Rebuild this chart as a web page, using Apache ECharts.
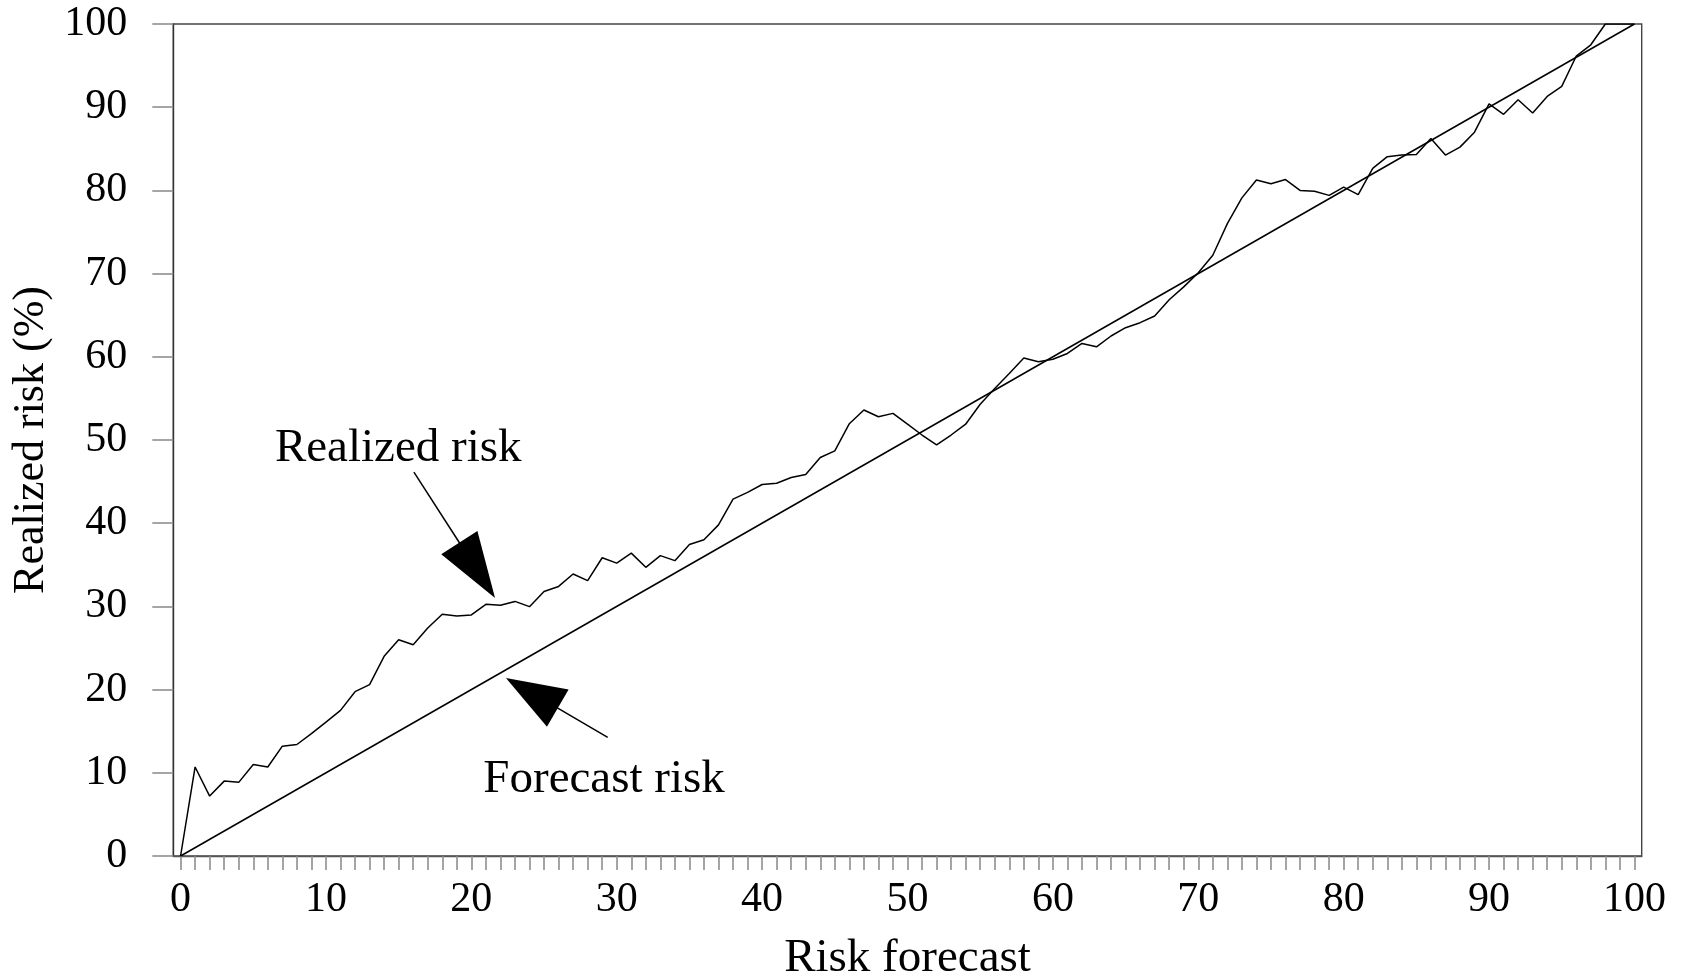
<!DOCTYPE html>
<html>
<head>
<meta charset="utf-8">
<script src="https://cdn.jsdelivr.net/npm/echarts@6/dist/echarts.min.js"></script>
<style>
html,body{margin:0;padding:0;background:#fff;}
#c{width:1684px;height:974px;}
</style>
</head>
<body>
<div id="c"></div>
<script>
// ---- data ----
const riskForecast = [0,1,2,3,4,5,6,7,8,9,10,11,12,13,14,15,16,17,18,19,20,21,22,23,24,25,26,27,28,29,30,31,32,33,34,35,36,37,38,39,40,41,42,43,44,45,46,47,48,49,50,51,52,53,54,55,56,57,58,59,60,61,62,63,64,65,66,67,68,69,70,71,72,73,74,75,76,77,78,79,80,81,82,83,84,85,86,87,88,89,90,91,92,93,94,95,96,97,98,99,100];
const realizedRisk = [0,10.7,7.2,9.0,8.85,11.0,10.7,13.2,13.4,14.7,16.1,17.5,19.75,20.6,24.0,26.0,25.4,27.4,29.05,28.85,28.97,30.25,30.15,30.6,29.97,31.8,32.4,33.9,33.1,35.85,35.2,36.4,34.7,36.1,35.5,37.45,38.0,39.8,42.9,43.7,44.65,44.8,45.5,45.85,47.9,48.7,51.96,53.6,52.8,53.2,51.9,50.6,49.4,50.6,51.9,54.3,56.2,58.0,59.85,59.4,59.7,60.4,61.6,61.2,62.5,63.5,64.1,64.9,66.85,68.4,70.1,72.2,76.0,79.1,81.25,80.8,81.3,80.0,79.9,79.4,80.4,79.5,82.65,84.05,84.25,84.3,86.25,84.25,85.2,87.0,90.4,89.15,90.9,89.3,91.3,92.5,96.15,97.5,100,100,100];
const forecastX = [0, 100];
const forecastY = [0, 100];
const xMajorTicks = [0,10,20,30,40,50,60,70,80,90,100];
const yTicks = [0,10,20,30,40,50,60,70,80,90,100];
const annotationLabels = ['Realized risk', 'Forecast risk'];
const annotationTextAt = [[14.97, 48.9], [29.13, 9.13]];
const arrowTails = [[16.05, 46.15], [29.38, 14.27]];
const arrowTips = [[21.63, 31.0], [22.38, 21.4]];

const FONT = '"Liberation Serif", "Times New Roman", serif';

const chart = echarts.init(document.getElementById('c'), null, {renderer: 'canvas'});

const option = {
  animation: false,
  backgroundColor: '#fff',
  grid: {
    left: 173.3, right: 42.3, top: 24, bottom: 118,
    show: true, borderColor: '#444', borderWidth: 1.4,
    outerBoundsMode: 'none'
  },
  xAxis: {
    type: 'value', min: -0.5, max: 100.5,
    name: 'Risk forecast', nameLocation: 'middle', nameGap: 79,
    nameTextStyle: {fontFamily: FONT, fontSize: 47, color: '#000'},
    axisLine: {show: true, onZero: false, lineStyle: {color: '#555', width: 1.4}},
    axisTick: {show: true, length: 14, customValues: riskForecast, lineStyle: {color: '#888', width: 1.5}},
    axisLabel: {customValues: xMajorTicks, fontFamily: FONT, fontSize: 42, color: '#000', margin: 23},
    splitLine: {show: false}
  },
  yAxis: {
    type: 'value', min: 0, max: 100, interval: 10,
    name: 'Realized risk (%)', nameLocation: 'middle', nameGap: 118, nameRotate: 90,
    nameTextStyle: {fontFamily: FONT, fontSize: 44, color: '#000'},
    axisLine: {show: true, onZero: false, lineStyle: {color: '#333', width: 1.4}},
    axisTick: {show: true, length: 21, customValues: yTicks, lineStyle: {color: '#888', width: 1.5}},
    axisLabel: {customValues: yTicks, fontFamily: FONT, fontSize: 42, color: '#000', margin: 46},
    splitLine: {show: false}
  },
  series: [
    {
      name: 'Forecast risk', type: 'line', showSymbol: false, symbol: 'none',
      data: forecastX.map((x, i) => [x, forecastY[i]]),
      lineStyle: {color: '#000', width: 1.5}
    },
    {
      name: 'Realized risk', type: 'line', showSymbol: false, symbol: 'none',
      data: riskForecast.map((x, i) => [x, realizedRisk[i]]),
      lineStyle: {color: '#000', width: 1.5}, clip: true
    }
  ]
};
chart.setOption(option);

function toPx(p) { return chart.convertToPixel({gridIndex: 0}, p); }
function arrow(tail, tip, len, wid) {
  const a = toPx(tail), b = toPx(tip);
  const dx = b[0] - a[0], dy = b[1] - a[1], L = Math.hypot(dx, dy);
  const ux = dx / L, uy = dy / L;
  const mx = b[0] - ux * len, my = b[1] - uy * len;
  const px = -uy * wid / 2, py = ux * wid / 2;
  return [
    {type: 'line', shape: {x1: a[0], y1: a[1], x2: mx + ux * 2, y2: my + uy * 2}, style: {stroke: '#000', lineWidth: 1.5}},
    {type: 'polygon', shape: {points: [[b[0], b[1]], [mx + px, my + py], [mx - px, my - py]]}, style: {fill: '#000'}}
  ];
}
const graphics = [];
const lens = [66, 60];
annotationLabels.forEach((t, i) => {
  const p = toPx(annotationTextAt[i]);
  graphics.push({type: 'text', x: p[0], y: p[1], style: {text: t, font: '47px ' + FONT, fill: '#000', align: 'center', verticalAlign: 'middle'}});
  graphics.push(...arrow(arrowTails[i], arrowTips[i], lens[i], 43));
});
chart.setOption({graphic: graphics});
</script>
</body>
</html>
